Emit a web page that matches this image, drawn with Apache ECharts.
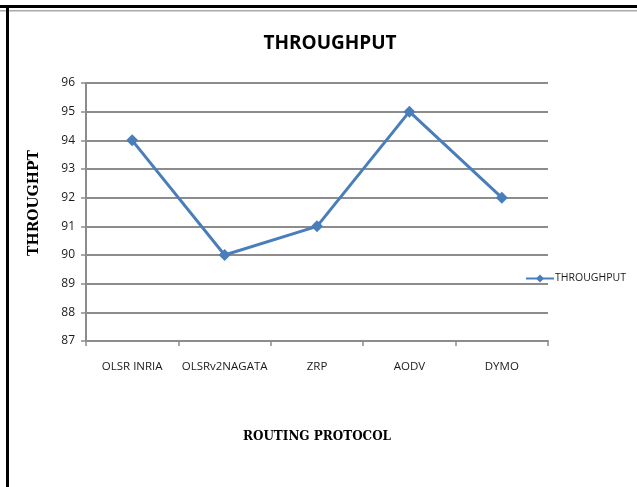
<!DOCTYPE html>
<html>
<head>
<meta charset="utf-8">
<script src="https://cdn.jsdelivr.net/npm/echarts@6/dist/echarts.min.js"></script>
<style>
  html, body { margin: 0; padding: 0; background: #fff; }
  #chart { width: 637px; height: 487px; }
</style>
</head>
<body>
<div id="chart"></div>
<script>
// routing protocols and their throughput
var protocols = ['OLSR INRIA', 'OLSRv2NAGATA', 'ZRP', 'AODV', 'DYMO'];
var throughput = [94, 90, 91, 95, 92];
var seriesName = 'THROUGHPUT';

var chart = echarts.init(document.getElementById('chart'));
var gridColor = '#8c8c8c';
var labelFont = 'Open Sans';

chart.setOption({
  animation: false,
  backgroundColor: '#fff',
  title: {
    text: 'THROUGHPUT',
    left: 325,
    top: 29,
    textAlign: 'center',
    textStyle: { fontFamily: labelFont, fontSize: 19, fontWeight: 'bold', color: '#000' }
  },
  legend: {
    left: 520,
    top: 268,
    itemWidth: 28,
    itemHeight: 10,
    itemGap: 2,
    data: [seriesName],
    textStyle: { fontFamily: labelFont, fontSize: 10.5, color: '#1a1a1a', padding: [0, 0, 0, -4] }
  },
  grid: { left: 86, right: 89, top: 83, bottom: 146, containLabel: false },
  xAxis: {
    type: 'category',
    data: protocols,
    boundaryGap: true,
    name: 'ROUTING PROTOCOL',
    nameLocation: 'middle',
    nameGap: 90,
    nameTextStyle: { fontFamily: 'DejaVu Serif', fontSize: 12, fontWeight: 'bold', color: '#000' },
    axisLine: { lineStyle: { color: gridColor, width: 2 } },
    axisTick: { show: true, interval: 0, alignWithLabel: false, length: 5, lineStyle: { color: gridColor, width: 1.5 } },
    axisLabel: { interval: 0, fontFamily: labelFont, fontSize: 11.5, color: '#1a1a1a', margin: 20 }
  },
  yAxis: {
    type: 'value',
    min: 87,
    max: 96,
    interval: 1,
    axisLine: { show: true, lineStyle: { color: gridColor, width: 2 } },
    axisTick: { show: true, length: 5, lineStyle: { color: gridColor, width: 1.5 } },
    axisLabel: { fontFamily: labelFont, fontSize: 12, color: '#1a1a1a', margin: 11 },
    splitLine: { lineStyle: { color: gridColor, width: 2 } }
  },
  series: [{
    name: seriesName,
    type: 'line',
    data: throughput,
    symbol: 'diamond',
    symbolSize: 12,
    itemStyle: { color: '#4a7ebb' },
    lineStyle: { color: '#4a7ebb', width: 3 }
  }],
  graphic: [
    // frame of the original figure
    { type: 'rect', shape: { x: 0, y: 5, width: 637, height: 3 }, style: { fill: '#000' } },
    { type: 'rect', shape: { x: 0, y: 10, width: 637, height: 1.5 }, style: { fill: '#aaa' } },
    { type: 'rect', shape: { x: 6, y: 5, width: 3, height: 482 }, style: { fill: '#000' } },
    // y axis title
    {
      type: 'text', x: 34, y: 203, rotation: Math.PI / 2,
      style: {
        text: 'THROUGHPT', fill: '#000', align: 'center', verticalAlign: 'middle',
        font: 'bold 14px "DejaVu Serif"'
      }
    }
  ]
});
</script>
</body>
</html>
